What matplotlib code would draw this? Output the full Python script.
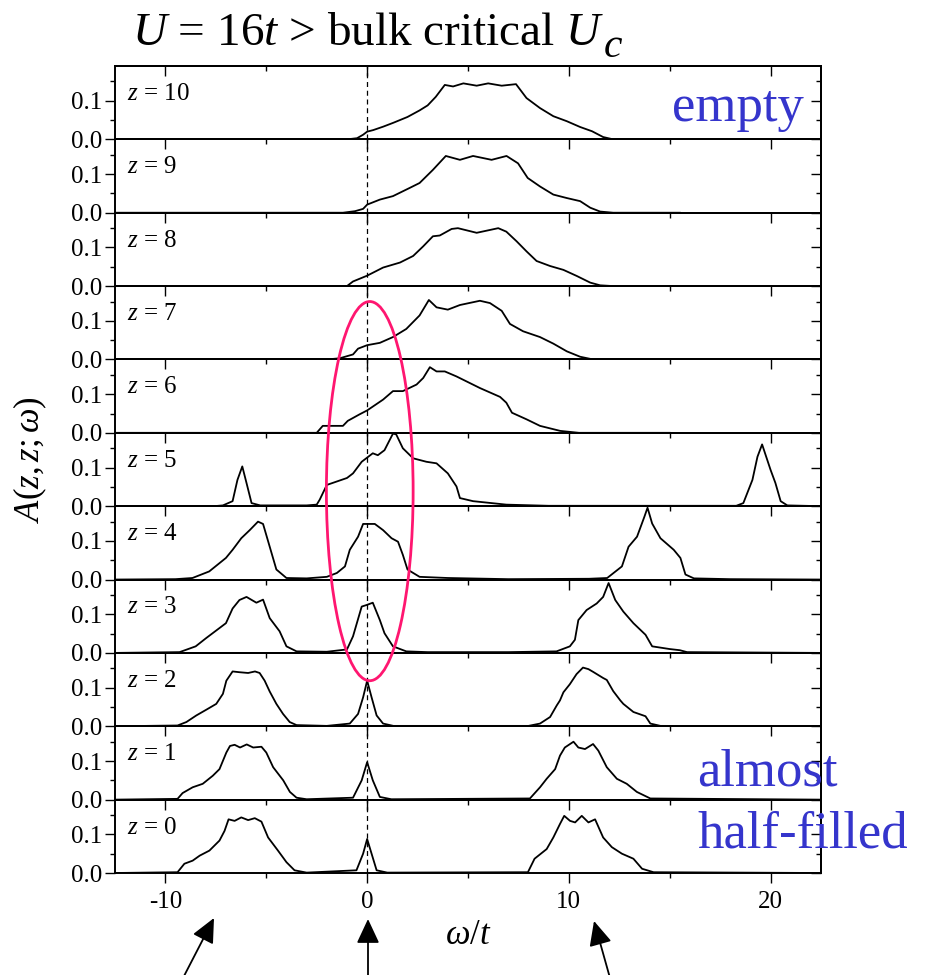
import matplotlib
matplotlib.use("Agg")
import matplotlib.pyplot as plt
from matplotlib.patches import Ellipse, FancyArrowPatch
from matplotlib.ticker import MultipleLocator, FixedLocator

plt.rcParams['font.family'] = ['Liberation Serif', 'DejaVu Serif']
plt.rcParams['mathtext.fontset'] = 'custom'
plt.rcParams['mathtext.rm'] = 'Liberation Serif'
plt.rcParams['mathtext.it'] = 'Liberation Serif:italic'
plt.rcParams['mathtext.cal'] = 'Liberation Serif:italic'

# ---------------- data (omega/t, A(z,z;omega)) ----------------
z_values = [10, 9, 8, 7, 6, 5, 4, 3, 2, 1, 0]

omega_z10 = [-12.5, -1.0, -0.5, -0.2, 0.0, 0.3, 0.8, 1.3, 2.0, 2.6, 3.0, 3.4, 3.85, 4.26, 4.77,
             5.43, 6.0, 6.67, 7.38, 7.9, 8.57, 9.23, 9.9, 10.56, 11.15, 11.7, 12.2, 15.5]
A_z10 = [0, 0, 0.003, 0.012, 0.020, 0.024, 0.033, 0.043, 0.058, 0.075, 0.088, 0.110, 0.141, 0.137,
         0.145, 0.139, 0.145, 0.139, 0.143, 0.107, 0.081, 0.060, 0.047, 0.032, 0.021, 0.006, 0.0, 0.0]

omega_z9 = [-12.5, -1.2, -0.6, -0.2, 0.0, 0.63, 1.28, 2.1, 2.6, 3.26, 3.9, 4.6, 5.25, 6.17, 6.91,
            7.48, 7.96, 8.57, 9.23, 9.9, 10.56, 11.06, 11.55, 12.2, 15.5]
A_z9 = [0, 0, 0.004, 0.010, 0.021, 0.034, 0.043, 0.064, 0.077, 0.111, 0.147, 0.137, 0.147, 0.137,
        0.147, 0.128, 0.090, 0.068, 0.047, 0.038, 0.030, 0.013, 0.003, 0, 0]

omega_z8 = [-12.5, -1.0, -0.7, 0.0, 0.79, 1.63, 2.28, 2.78, 3.26, 3.6, 4.19, 4.5, 5.43, 6.5, 6.9,
            7.41, 7.9, 8.4, 9.07, 9.73, 10.4, 11.06, 11.55, 12.2, 15.7]
A_z8 = [0, 0, 0.012, 0.027, 0.048, 0.061, 0.078, 0.103, 0.129, 0.131, 0.148, 0.150, 0.138, 0.150,
        0.141, 0.116, 0.090, 0.065, 0.052, 0.042, 0.026, 0.009, 0.002, 0, 0]

omega_z7 = [-12.5, -2.0, -1.36, -0.7, -0.45, 0.0, 0.63, 1.28, 1.94, 2.6, 3.06, 3.44, 4.0, 4.6, 5.59,
            6.09, 6.67, 7.08, 7.73, 8.57, 9.23, 9.9, 10.56, 11.2, 15.7]
A_z7 = [0, 0, 0.003, 0.013, 0.028, 0.037, 0.043, 0.058, 0.079, 0.114, 0.154, 0.135, 0.129, 0.141,
        0.152, 0.146, 0.126, 0.092, 0.073, 0.058, 0.041, 0.021, 0.007, 0, 0]

omega_z6 = [-12.5, -2.5, -2.2, -1.2, -0.96, -0.37, 0.0, 0.79, 1.28, 1.77, 2.45, 2.78, 3.11, 3.44,
            3.85, 4.43, 5.59, 6.59, 6.9, 7.18, 7.9, 8.57, 9.57, 10.5, 15.0]
A_z6 = [0, 0, 0.018, 0.018, 0.031, 0.048, 0.058, 0.086, 0.108, 0.108, 0.125, 0.142, 0.170, 0.159,
        0.159, 0.146, 0.116, 0.093, 0.078, 0.052, 0.035, 0.018, 0.005, 0, 0]

omega_z5 = [-12.5, -7.6, -7.15, -6.67, -6.43, -6.19, -5.98, -5.73, -5.3, -3.0, -2.5, -2.35, -2.0,
            -1.5, -1.0, -0.7, -0.27, 0.28, 0.53, 0.86, 1.28, 1.44, 1.77, 2.28, 2.94, 3.44, 4.0,
            4.43, 4.6, 5.25, 6.9, 9.0, 18.3, 18.65, 19.1, 19.35, 19.58, 20.0, 20.24, 20.5, 20.83, 22.5]
A_z5 = [0, 0, 0.002, 0.013, 0.068, 0.103, 0.060, 0.008, 0.002, 0.002, 0.004, 0.017, 0.055, 0.064,
        0.073, 0.085, 0.115, 0.137, 0.132, 0.145, 0.188, 0.186, 0.150, 0.124, 0.115, 0.111, 0.085,
        0.051, 0.021, 0.013, 0.004, 0.001, 0.001, 0.008, 0.068, 0.128, 0.160, 0.094, 0.060, 0.013,
        0.002, 0]

omega_z4 = [-12.5, -9.5, -8.66, -7.83, -7.0, -6.67, -6.24, -5.82, -5.41, -5.16, -4.83, -4.5, -4.0,
            -3.0, -2.0, -1.5, -1.1, -0.86, -0.45, -0.2, 0.38, 0.79, 1.21, 1.53, 1.77, 2.0, 2.6,
            4.0, 7.0, 11.0, 11.9, 12.63, 12.96, 13.38, 13.74, 13.9, 14.13, 14.54, 15.2, 15.53,
            15.78, 16.2, 18.0, 22.5]
A_z4 = [0, 0.001, 0.004, 0.021, 0.056, 0.077, 0.107, 0.128, 0.150, 0.144, 0.085, 0.026, 0.004,
        0.003, 0.007, 0.017, 0.034, 0.077, 0.111, 0.144, 0.144, 0.128, 0.107, 0.098, 0.064, 0.026,
        0.007, 0.004, 0.001, 0.002, 0.004, 0.034, 0.085, 0.111, 0.162, 0.186, 0.145, 0.107, 0.077,
        0.056, 0.013, 0.003, 0.001, 0]

omega_z3 = [-12.5, -9.3, -8.5, -7.99, -7.33, -7.0, -6.67, -6.33, -5.98, -5.49, -5.16, -4.83, -4.34,
            -4.0, -3.5, -2.0, -1.0, -0.7, -0.27, -0.03, 0.28, 0.63, 0.86, 1.28, 1.94, 3.0, 7.0,
            9.39, 10.05, 10.3, 10.47, 10.88, 11.38, 11.7, 11.97, 12.3, 12.7, 13.2, 13.8, 14.13,
            15.0, 15.5, 15.86, 22.5]
A_z3 = [0, 0.002, 0.017, 0.038, 0.064, 0.077, 0.115, 0.137, 0.145, 0.130, 0.138, 0.090, 0.056,
        0.017, 0.004, 0.003, 0.009, 0.043, 0.120, 0.124, 0.130, 0.085, 0.051, 0.017, 0.004, 0.002,
        0.002, 0.004, 0.017, 0.034, 0.085, 0.111, 0.128, 0.145, 0.181, 0.137, 0.107, 0.077, 0.047,
        0.017, 0.010, 0.007, 0.002, 0]

omega_z2 = [-12.5, -9.4, -8.96, -8.47, -7.97, -7.48, -7.15, -6.98, -6.67, -6.33, -5.9, -5.56,
            -5.33, -5.08, -4.83, -4.5, -4.17, -3.84, -3.5, -2.0, -0.86, -0.45, -0.2, 0.0, 0.22,
            0.47, 0.79, 1.3, 8.0, 8.57, 9.07, 9.4, 9.56, 9.73, 10.05, 10.38, 10.7, 10.97, 11.2,
            11.7, 11.88, 12.2, 12.55, 12.7, 13.2, 13.8, 14.04, 14.54, 22.5]
A_z2 = [0, 0.002, 0.011, 0.028, 0.043, 0.058, 0.084, 0.118, 0.142, 0.140, 0.138, 0.142, 0.138,
        0.118, 0.090, 0.058, 0.032, 0.011, 0.003, 0.001, 0.007, 0.032, 0.075, 0.118, 0.075, 0.028,
        0.007, 0.001, 0.001, 0.007, 0.024, 0.054, 0.067, 0.088, 0.109, 0.135, 0.152, 0.148, 0.141,
        0.125, 0.120, 0.091, 0.067, 0.058, 0.037, 0.026, 0.007, 0.001, 0]

omega_z1 = [-12.5, -9.4, -9.15, -8.65, -8.15, -7.65, -7.32, -6.98, -6.8, -6.57, -6.3, -5.97, -5.65,
            -5.24, -5.0, -4.66, -4.16, -3.83, -3.5, -3.0, -0.7, -0.27, 0.0, 0.28, 0.63, 1.2, 8.07,
            8.57, 8.9, 9.32, 9.56, 9.8, 10.23, 10.47, 10.8, 11.2, 11.46, 11.88, 12.38, 12.87, 13.37,
            14.04, 22.5]
A_z1 = [0, 0.002, 0.017, 0.032, 0.041, 0.062, 0.079, 0.122, 0.139, 0.142, 0.135, 0.143, 0.135,
        0.137, 0.122, 0.084, 0.050, 0.020, 0.005, 0.001, 0.005, 0.050, 0.097, 0.050, 0.007, 0.001,
        0.003, 0.032, 0.054, 0.079, 0.114, 0.135, 0.150, 0.135, 0.131, 0.144, 0.127, 0.084, 0.054,
        0.041, 0.020, 0.003, 0]

omega_z0 = [-12.5, -9.4, -9.06, -8.65, -8.3, -7.82, -7.32, -7.07, -6.87, -6.57, -6.24, -5.9, -5.57,
            -5.24, -4.91, -4.42, -4.0, -3.6, -3.0, -0.53, -0.2, 0.0, 0.22, 0.47, 1.0, 7.97, 8.3, 8.9,
            9.23, 9.56, 9.77, 10.06, 10.31, 10.64, 10.97, 11.3, 11.7, 12.13, 12.63, 13.2, 13.63,
            14.2, 22.5]
A_z0 = [0, 0.002, 0.024, 0.032, 0.045, 0.058, 0.084, 0.109, 0.139, 0.135, 0.144, 0.137, 0.142,
        0.133, 0.092, 0.058, 0.028, 0.007, 0.001, 0.007, 0.050, 0.088, 0.050, 0.007, 0.001, 0.002,
        0.037, 0.062, 0.092, 0.127, 0.148, 0.135, 0.131, 0.148, 0.131, 0.139, 0.092, 0.067, 0.050,
        0.037, 0.011, 0.002, 0]

curves = {10: (omega_z10, A_z10), 9: (omega_z9, A_z9), 8: (omega_z8, A_z8),
          7: (omega_z7, A_z7), 6: (omega_z6, A_z6), 5: (omega_z5, A_z5),
          4: (omega_z4, A_z4), 3: (omega_z3, A_z3), 2: (omega_z2, A_z2),
          1: (omega_z1, A_z1), 0: (omega_z0, A_z0)}

x_major = [-10, 0, 10, 20]
x_tick_labels = ['-10', '0', '10', '20']
y_major = [0.0, 0.1]
y_tick_labels = ['0.0', '0.1']

# ---------------- figure ----------------
W, H = 926, 975
fig = plt.figure(figsize=(W / 100, H / 100), dpi=100)

left, right = 115 / W, 821 / W
bottom, top = 1 - 873 / H, 1 - 66 / H
n = len(z_values)
ph = (top - bottom) / n

blue = '#3535cc'
axes = {}
for i, z in enumerate(z_values):
    ax = fig.add_axes([left, top - (i + 1) * ph, right - left, ph])
    ax.set_facecolor('none')
    w, a = curves[z]
    ax.plot(w, a, color='black', lw=1.3, solid_joinstyle='round')
    ax.axvline(0, color='black', lw=0.9, ls=(0, (4, 3)))
    ax.set_xlim(-12.5, 22.5)
    ax.set_ylim(0, 0.19)
    for s in ax.spines.values():
        s.set_linewidth(1.4)
    # y axis: left ticks out with labels
    ax.set_yticks(y_major)
    ax.set_yticklabels(y_tick_labels, fontsize=18)
    ax.yaxis.set_minor_locator(FixedLocator([0.05, 0.15]))
    ax.tick_params(axis='y', which='major', direction='out', length=7, width=1.0, pad=2)
    ax.tick_params(axis='y', which='minor', direction='out', length=3.6, width=1.0)
    # x axis
    ax.set_xticks(x_major)
    ax.xaxis.set_minor_locator(MultipleLocator(5))
    is_bottom = (z == z_values[-1])
    ax.tick_params(axis='x', which='major', direction='out', length=7, width=1.0,
                   bottom=is_bottom, labelbottom=is_bottom, labelsize=18, pad=6)
    ax.tick_params(axis='x', which='minor', direction='out', length=3.6, width=1.0,
                   bottom=is_bottom)
    if is_bottom:
        ax.set_xticklabels(x_tick_labels)
    # top ticks inward
    sx = ax.secondary_xaxis('top')
    sx.set_xticks(x_major)
    sx.xaxis.set_minor_locator(MultipleLocator(5))
    sx.tick_params(axis='x', which='major', direction='in', length=7, width=1.0, labeltop=False)
    sx.tick_params(axis='x', which='minor', direction='in', length=3.6, width=1.0)
    sx.spines['top'].set_linewidth(1.4)
    # right ticks inward
    sy = ax.secondary_yaxis('right')
    sy.set_yticks(y_major)
    sy.yaxis.set_minor_locator(FixedLocator([0.05, 0.15]))
    sy.tick_params(axis='y', which='major', direction='in', length=7, width=1.0, labelright=False)
    sy.tick_params(axis='y', which='minor', direction='in', length=3.6, width=1.0)
    sy.spines['right'].set_linewidth(1.4)
    ax.text(0.017, 0.62, r'$z$ = %d' % z, transform=ax.transAxes, fontsize=18,
            ha='left', va='center')
    axes[z] = ax

axes[0].set_xlabel(r'$\omega/t$', fontsize=25, labelpad=4)
fig.text(30 / W, 1 - 460 / H, r'$A(z,z;\omega)$', fontsize=25, rotation=90,
         ha='center', va='center')

# title
fig.text(132 / W, 1 - 45 / H, r'$U$ = 16$t$ > bulk critical $U$', fontsize=34,
         ha='left', va='baseline')
fig.text(603 / W, 1 - 57 / H, r'$c$', fontsize=30, ha='left', va='baseline')

# blue annotations
fig.text(672 / W, 1 - 121 / H, 'empty', color=blue, fontsize=38, ha='left', va='baseline')
fig.text(697 / W, 1 - 785 / H, 'almost', color=blue, fontsize=38, ha='left', va='baseline')
fig.text(697 / W, 1 - 848 / H, 'half-filled', color=blue, fontsize=38, ha='left', va='baseline')

# pink ellipse spanning panels z=7 .. z=2 around omega = 0
ell_w = 0.13
ell_top = axes[7].transData.transform((ell_w, 0.15))
ell_bot = axes[2].transData.transform((ell_w, 0.118))
ell_left = axes[2].transData.transform((ell_w - 2.15, 0.0))
inv = fig.transFigure.inverted()
t_f = inv.transform(ell_top)
b_f = inv.transform(ell_bot)
l_f = inv.transform(ell_left)
cx, cy = t_f[0], (t_f[1] + b_f[1]) / 2
fig.add_artist(Ellipse((cx, cy), 2 * (cx - l_f[0]), t_f[1] - b_f[1], transform=fig.transFigure,
                       fill=False, edgecolor='#ff1670', lw=2.0))

# arrows below the axis
arrow_specs = [((183, 978), (214, 918)), ((368, 978), (368, 919)), ((610, 978), (594, 921))]
for (x0, y0), (x1, y1) in arrow_specs:
    fig.add_artist(FancyArrowPatch((x0 / W, 1 - y0 / H), (x1 / W, 1 - y1 / H),
                                   transform=fig.transFigure,
                                   arrowstyle='-|>,head_length=0.75,head_width=0.35',
                                   mutation_scale=20, color='black', lw=1.3,
                                   shrinkA=0, shrinkB=0))

fig.savefig('out.png', dpi=100)
